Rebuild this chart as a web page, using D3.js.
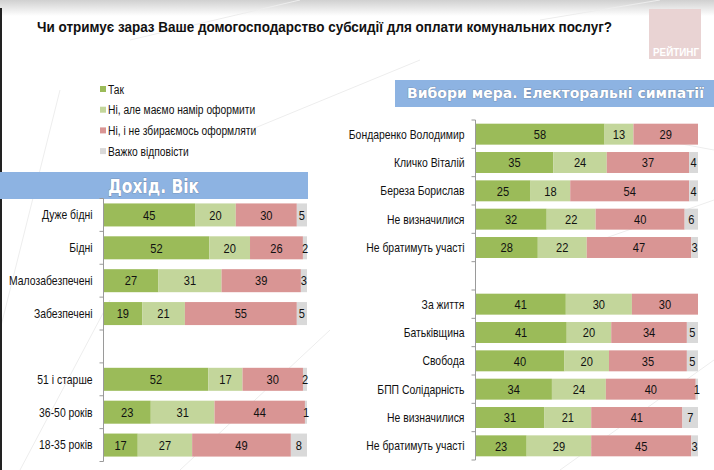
<!DOCTYPE html>
<html><head><meta charset="utf-8">
<script src="https://cdn.jsdelivr.net/npm/d3@7"></script>
<style>
body{margin:0;background:#fff;}
svg{display:block;}
</style></head>
<body>
<svg id="c" width="714" height="470"></svg>
<script>
// ---- data ----
const seriesNames = ["Так", "Ні, але маємо намір оформити", "Ні, і не збираємось оформляти", "Важко відповісти"];
const seriesColors = ["#9bbb59", "#c3d69b", "#d99594", "#d9d9d9"];

const titleText = "Чи отримує зараз Ваше домогосподарство субсидії для оплати комунальних послуг?";
const leftTitle = "Дохід. Вік";
const rightTitle = "Вибори мера. Електоральні симпатії";

const leftCatsA = ["Дуже бідні", "Бідні", "Малозабезпечені", "Забезпечені"];
const leftValsA = [[45,20,30,5],[52,20,26,2],[27,31,39,3],[19,21,55,5]];
const leftCatsB = ["51 і старше", "36-50 років", "18-35 років"];
const leftValsB = [[52,17,30,2],[23,31,44,1],[17,27,49,8]];

const rightCatsA = ["Бондаренко Володимир", "Кличко Віталій", "Береза Борислав", "Не визначилися", "Не братимуть участі"];
const rightValsA = [[58,13,29,0],[35,24,37,4],[25,18,54,4],[32,22,40,6],[28,22,47,3]];
const rightCatsB = ["За життя", "Батьківщина", "Свобода", "БПП Солідарність", "Не визначилися", "Не братимуть участі"];
const rightValsB = [[41,30,30,0],[41,20,34,5],[40,20,35,5],[34,24,40,1],[31,21,41,7],[23,29,45,3]];

// ---- drawing ----
const svg = d3.select("#c");
const FONT = "'Liberation Sans',Arial,sans-serif";
const NF = 0.8; // horizontal condensing to mimic a narrow face

function narrow(sel, f){
  sel.each(function(){
    const w = this.getComputedTextLength();
    d3.select(this).attr("textLength", w*f).attr("lengthAdjust","spacingAndGlyphs");
  });
}
function fitWidth(sel, w){
  sel.attr("textLength", w).attr("lengthAdjust","spacingAndGlyphs");
}

// background
const defs = svg.append("defs");
const g0 = defs.append("linearGradient").attr("id","topg").attr("x1",0).attr("y1",0).attr("x2",0).attr("y2",1);
g0.append("stop").attr("offset","0%").attr("stop-color","#d0d0d0");
g0.append("stop").attr("offset","100%").attr("stop-color","#ffffff");
svg.append("rect").attr("x",0).attr("y",0).attr("width",714).attr("height",16).attr("fill","url(#topg)");
const bgLines = [[0,330,60,90],[20,470,110,300],[130,40,300,0],[250,130,420,60],[540,20,660,0],[600,240,714,200],[660,140,714,150],[560,470,714,360],[180,470,330,330]];
svg.append("g").selectAll("line").data(bgLines).join("line")
  .attr("x1",d=>d[0]).attr("y1",d=>d[1]).attr("x2",d=>d[2]).attr("y2",d=>d[3])
  .attr("stroke","#ededed").attr("stroke-width",1);
svg.append("line").attr("x1",1).attr("x2",1).attr("y1",8).attr("y2",470).attr("stroke","#222").attr("stroke-width",2);

// title
svg.append("text").attr("x",37).attr("y",32).text(titleText)
  .attr("font-family",FONT).attr("font-weight","bold").attr("font-size",15.5).attr("fill","#111")
  .call(fitWidth, 575);

// logo
svg.append("rect").attr("x",649).attr("y",9).attr("width",52).attr("height",50).attr("fill","#e9d3d3");
svg.append("text").attr("x",653).attr("y",56).text("РЕЙТИНГ")
  .attr("font-family",FONT).attr("font-weight","bold").attr("font-size",10).attr("fill","#fff")
  .call(fitWidth, 46);

// legend
const leg = svg.append("g").selectAll("g").data(seriesNames).join("g")
  .attr("transform",(d,i)=>`translate(100,${89 + i*20.7})`);
leg.append("rect").attr("x",0).attr("y",-3).attr("width",6).attr("height",6).attr("fill",(d,i)=>seriesColors[i]);
leg.append("text").attr("x",8).attr("y",4.5).text(d=>d)
  .attr("font-family",FONT).attr("font-size",12.5).attr("fill","#111")
  .call(narrow, 0.82);

// headers
function header(x, y, w, h, txt, tx, tw, fs){
  svg.append("rect").attr("x",x).attr("y",y).attr("width",w).attr("height",h).attr("fill","#8db3e2");
  svg.append("text").attr("x",tx).attr("y",y+h/2+fs*0.37).text(txt)
    .attr("font-family","'DejaVu Sans',sans-serif").attr("font-weight","bold").attr("font-size",fs)
    .attr("fill","#fff").attr("stroke","#6a7f9c").attr("stroke-width",0.7).attr("paint-order","stroke")
    .call(fitWidth, tw);
}
header(0,172,308,27,leftTitle,108,91,19);
header(395,80,319,27,rightTitle,407,297,13.5);

function chart(groups, axisX, x100, yTop, yBot, pad){
  const rows = [];
  groups.forEach((g, gi) => {
    if (gi > 0) rows.push({key:"gap"+gi, label:"", vals:null});
    g.cats.forEach((c,i) => rows.push({key:gi+"_"+i, label:c, vals:g.vals[i]}));
  });
  const y = d3.scaleBand().domain(rows.map(r=>r.key)).range([yTop,yBot]).paddingInner(pad).paddingOuter(pad/2);
  const x = d3.scaleLinear().domain([0,1]).range([axisX, x100]);
  const gC = svg.append("g");
  rows.filter(r=>r.vals).forEach(r=>{
    const tot = d3.sum(r.vals);
    let acc = 0;
    const segs = r.vals.map((v,i)=>{const s={v,i,a:acc/tot,b:(acc+v)/tot}; acc+=v; return s;});
    const g = gC.append("g");
    g.selectAll("rect").data(segs.filter(s=>s.v>0)).join("rect")
      .attr("x",s=>x(s.a)).attr("width",s=>x(s.b)-x(s.a))
      .attr("y",y(r.key)).attr("height",y.bandwidth()).attr("fill",s=>seriesColors[s.i]);
    g.selectAll("text").data(segs.filter(s=>s.v>0)).join("text")
      .attr("x",s=>(x(s.a)+x(s.b))/2).attr("y",y(r.key)+y.bandwidth()/2+4.7)
      .attr("text-anchor","middle").text(s=>s.v)
      .attr("font-family",FONT).attr("font-size",13.5).attr("fill","#111")
      .call(narrow, 0.82);
  });
  const labelMap = new Map(rows.map(r=>[r.key,r.label]));
  const ax = svg.append("g").attr("transform",`translate(${axisX},0)`)
    .call(d3.axisLeft(y).tickSize(0).tickPadding(11).tickFormat(k=>labelMap.get(k)));
  ax.select(".domain").remove();
  ax.selectAll("text").attr("font-family",FONT).attr("font-size",13).attr("fill","#111")
    .attr("dy","0.34em").call(narrow, NF);
  const bounds = d3.range(rows.length+1).map(i=>yTop + i*(yBot-yTop)/rows.length);
  svg.append("line").attr("x1",axisX).attr("x2",axisX).attr("y1",yTop).attr("y2",yBot)
    .attr("stroke","#9a9a9a").attr("stroke-width",1);
  svg.append("g").selectAll("line").data(bounds).join("line")
    .attr("x1",axisX-4).attr("x2",axisX).attr("y1",d=>d).attr("y2",d=>d)
    .attr("stroke","#9a9a9a").attr("stroke-width",1);
}

chart([{cats:leftCatsA, vals:leftValsA},{cats:leftCatsB, vals:leftValsB}], 103.5, 307, 198.5, 461.5, 0.3);
chart([{cats:rightCatsA, vals:rightValsA},{cats:rightCatsB, vals:rightValsB}], 475.5, 698, 120, 460, 0.26);
</script>
</body></html>
